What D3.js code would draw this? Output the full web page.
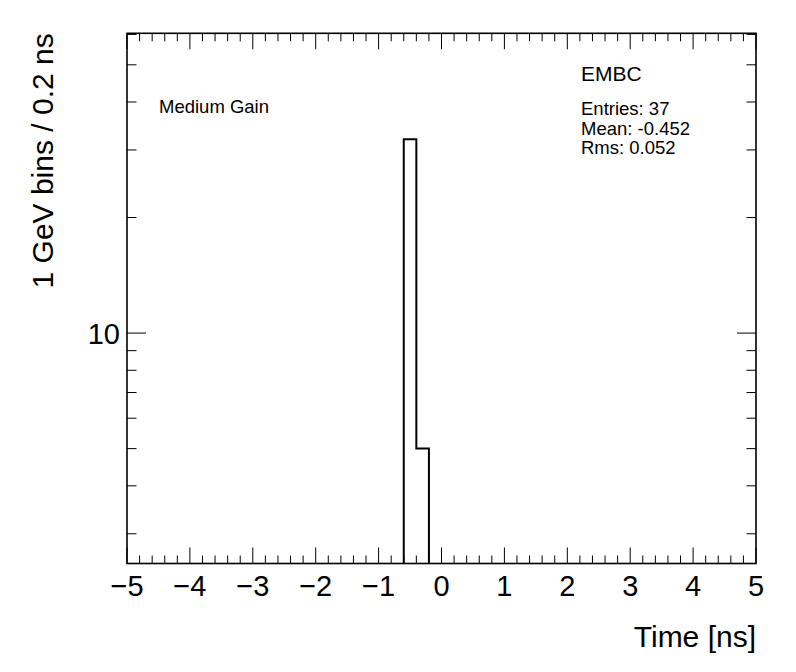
<!DOCTYPE html>
<html><head><meta charset="utf-8">
<script src="https://cdn.jsdelivr.net/npm/d3@7"></script>
<style>body{margin:0;background:#fff}svg{display:block}text{font-family:"Liberation Sans",Arial,Helvetica,sans-serif;fill:#000}</style>
</head><body>
<script>
const binStarts = [-0.6, -0.4];
const binCounts = [32, 5];
const binWidth = 0.2;
const xTickValues = [-5,-4,-3,-2,-1,0,1,2,3,4,5];
const yTickLabels = [10];
const yMinorValues = [3,4,5,6,7,8,9,20,30,40,50,60];
const xTitle = "Time [ns]";
const yTitle = "1 GeV bins / 0.2 ns";
const panelLabel = "Medium Gain";
const statTitle = "EMBC";
const statLines = ["Entries: 37","Mean: -0.452","Rms: 0.052"];

const W=796,H=672;
const L=127,R=756,T=33.3,B=563.5;
const svg=d3.select("body").append("svg").attr("width",W).attr("height",H);
const x=d3.scaleLinear().domain([-5,5]).range([L,R]);
const y=d3.scaleLog().domain([2.51,60.4]).range([B,T]);

const fmt=d=>d<0?"\u2212"+Math.abs(d):String(d);
const xMajLen=16,xMinLen=8,yMajLen=19,yMinLen=9.5;
const g=svg.append("g").attr("stroke","#000").attr("stroke-width",1);
// x ticks
const xMinor=d3.range(-5,5.0001,0.2).map(v=>+v.toFixed(2));
xMinor.forEach(v=>{
  const maj=xTickValues.includes(Math.round(v*10)/10)&&Math.abs(v-Math.round(v))<1e-6;
  const len=maj?xMajLen:xMinLen;
  g.append("line").attr("x1",x(v)).attr("x2",x(v)).attr("y1",B).attr("y2",B-len);
  g.append("line").attr("x1",x(v)).attr("x2",x(v)).attr("y1",T).attr("y2",T+len);
});
// y ticks
yMinorValues.forEach(v=>{
  g.append("line").attr("x1",L).attr("x2",L+yMinLen).attr("y1",y(v)).attr("y2",y(v));
  g.append("line").attr("x1",R).attr("x2",R-yMinLen).attr("y1",y(v)).attr("y2",y(v));
});
yTickLabels.forEach(v=>{
  g.append("line").attr("x1",L).attr("x2",L+yMajLen).attr("y1",y(v)).attr("y2",y(v));
  g.append("line").attr("x1",R).attr("x2",R-yMajLen).attr("y1",y(v)).attr("y2",y(v));
});
// histogram
const pts=[[x(binStarts[0]),B]];
binStarts.forEach((s,i)=>{pts.push([x(s),y(binCounts[i])]);pts.push([x(s+binWidth),y(binCounts[i])]);});
pts.push([x(binStarts[binStarts.length-1]+binWidth),B]);
svg.append("path").attr("d",d3.line()(pts)).attr("fill","none").attr("stroke","#000").attr("stroke-width",2);
// frame
svg.append("rect").attr("x",L).attr("y",T).attr("width",R-L).attr("height",B-T)
  .attr("fill","none").attr("stroke","#000").attr("stroke-width",1.6);
// labels
xTickValues.forEach(v=>{
  svg.append("text").attr("x",x(v)).attr("y",596).attr("text-anchor","middle")
    .attr("font-size",29).text(fmt(v));
});
yTickLabels.forEach(v=>{
  svg.append("text").attr("x",120).attr("y",y(v)+10.5).attr("text-anchor","end")
    .attr("font-size",29).text(fmt(v));
});
svg.append("text").attr("x",R).attr("y",647).attr("text-anchor","end").attr("font-size",30).text(xTitle);
svg.append("text").attr("transform",`translate(53,${T}) rotate(-90)`).attr("text-anchor","end")
  .attr("font-size",30).text(yTitle);
svg.append("text").attr("x",159).attr("y",113).attr("font-size",18.5).text(panelLabel);
svg.append("text").attr("x",581).attr("y",81).attr("font-size",21).text(statTitle);
statLines.forEach((s,i)=>{
  svg.append("text").attr("x",581).attr("y",115+i*19.5).attr("font-size",18.5).text(s);
});
</script>
</body></html>
